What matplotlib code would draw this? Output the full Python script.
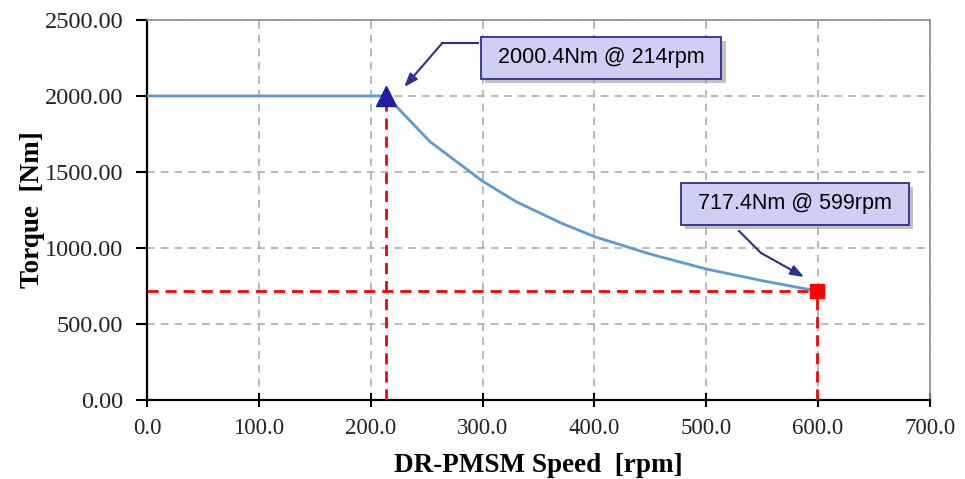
import numpy as np
import matplotlib.pyplot as plt
import matplotlib.patheffects as pe
from matplotlib.transforms import offset_copy

# torque / speed characteristic
speed = [0, 214, 253, 300, 330, 370, 400, 450, 500, 550, 599]
torque = [2000.4, 2000.4, 1700, 1440, 1305, 1165, 1075, 960, 862, 785, 717.4]

base_pt = (214, 2000.4)
corner_pt = (599, 717.4)
base_label = '2000.4Nm @ 214rpm'
corner_label = '717.4Nm @ 599rpm'

x_ticks = np.arange(0, 701, 100)
y_ticks = np.arange(0, 2501, 500)

fig = plt.figure(figsize=(9.65, 4.79), dpi=100)
ax = fig.add_axes([0.1523, 0.1649, 0.8114, 0.7933])

ax.set_xlim(0, 700)
ax.set_ylim(0, 2500)
ax.set_xticks(x_ticks)
ax.set_yticks(y_ticks)
ax.set_xticklabels([f'{v:.1f}' for v in x_ticks])
ax.set_yticklabels([f'{v:.2f}' for v in y_ticks])

serif = ['Liberation Serif', 'DejaVu Serif']
for lab in ax.get_xticklabels():
    lab.set_family(serif)
    lab.set_fontsize(16.5)
    lab.set_color('#222222')
for lab in ax.get_yticklabels():
    lab.set_family(serif)
    lab.set_fontsize(17.5)
    lab.set_color('#222222')
ax.tick_params(axis='x', direction='inout', length=10, width=1.5, color='black', pad=8)
ax.tick_params(axis='y', direction='out', length=8, width=1.5, color='black', pad=9)

for s in ['left', 'bottom']:
    ax.spines[s].set_color('black')
    ax.spines[s].set_linewidth(1.6)
for s in ['top', 'right']:
    ax.spines[s].set_color('#8c8c8c')
    ax.spines[s].set_linewidth(1.2)

ax.grid(True, color='#a6a6a6', linestyle=(0, (5, 4)), linewidth=1.1)
ax.set_axisbelow(True)

ax.set_xlabel('DR-PMSM Speed  [rpm]', family=serif, fontsize=19.5,
              fontweight='bold', labelpad=10)
ax.set_ylabel('Torque  [Nm]', family=serif, fontsize=19.5,
              fontweight='bold', labelpad=0)

# red guide lines
red = '#ff0000'
dash = (0, (4, 2.5))
ax.plot([0, corner_pt[0]], [corner_pt[1], corner_pt[1]], color=red, lw=2, ls=dash, zorder=3)
ax.plot([corner_pt[0], corner_pt[0]], [0, corner_pt[1]], color=red, lw=2, ls=dash, zorder=3)
ax.plot([base_pt[0], base_pt[0]], [0, base_pt[1]], color=red, lw=2, ls=dash, zorder=3)

ax.plot(speed, torque, color='#5b9bd5', lw=2, zorder=4)
ax.plot(*base_pt, marker='^', ms=14, color='#1c1caa', zorder=5)
ax.plot(*corner_pt, marker='s', ms=10, color=red, zorder=5)

arrow_c = '#2e2e8f'
box = dict(boxstyle='square,pad=0.5', fc='#cfcff5', ec=arrow_c, lw=1.3)


def callout(pt, label, path_px, box_px):
    # path_px: pixel offsets from the point (x right, y up); last item is the arrow tip
    pts = [offset_copy(ax.transData, fig, x=dx, y=dy, units='dots') for dx, dy in path_px]
    for i in range(len(pts) - 2):
        a = pts[i].transform(pt)
        b = pts[i + 1].transform(pt)
        ax.plot([a[0], b[0]], [a[1], b[1]], color=arrow_c, lw=1.5,
                transform=None, zorder=6, clip_on=False)
    tail = pts[-2].transform(pt)
    tip = pts[-1].transform(pt)
    ax.annotate('', xy=tip, xycoords='figure pixels', xytext=tail,
                textcoords='figure pixels',
                arrowprops=dict(arrowstyle='-|>,head_length=0.8,head_width=0.3',
                                color=arrow_c, lw=1.5, shrinkA=0, shrinkB=0),
                zorder=6)
    t = ax.annotate(' ' + label + ' ', xy=pt, xytext=box_px, textcoords='offset pixels',
                    ha='center', va='center', fontsize=15.5,
                    family=['Liberation Sans', 'DejaVu Sans'], color='black',
                    bbox=box, zorder=7)
    t.get_bbox_patch().set_path_effects([
        pe.SimplePatchShadow(offset=(3, -3), shadow_rgbFace='#9a9a9a', alpha=0.6),
        pe.Normal()])


callout(base_pt, base_label,
        [(92, 53), (56, 53), (18, 9)], (215, 38))
callout(corner_pt, corner_label,
        [(-78, 60), (-56, 38), (-13, 14)], (-22, 87))

fig.savefig('out.png', dpi=100)
